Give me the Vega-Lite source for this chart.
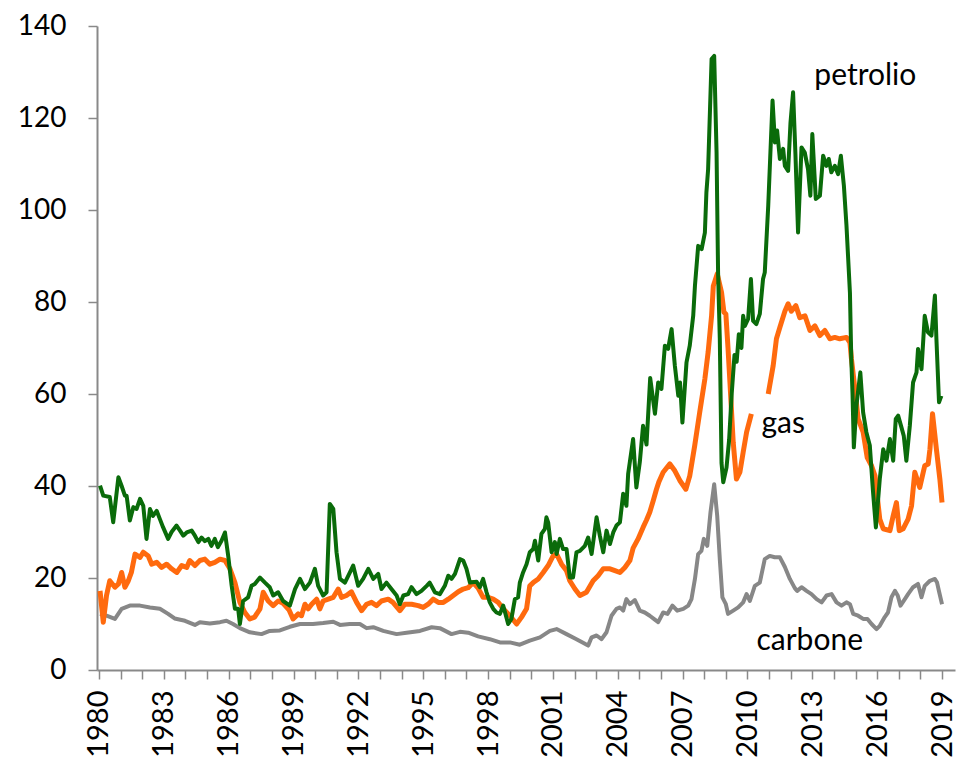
{
  "$schema": "https://vega.github.io/schema/vega-lite/v6.json",
  "width": 858,
  "height": 644,
  "autosize": {"type": "none"},
  "padding": {"left": 97, "top": 26, "right": 3, "bottom": 94},
  "background": "white",
  "config": {"view": {"stroke": null}},
  "datasets": {
    "series": [
      {"series":"petrolio","year":1980.05,"value":40.1},{"series":"petrolio","year":1980.2,"value":37.9},{"series":"petrolio","year":1980.5,"value":37.6},{"series":"petrolio","year":1980.66,"value":32.1},{"series":"petrolio","year":1980.9,"value":41.9},{"series":"petrolio","year":1981.05,"value":40},{"series":"petrolio","year":1981.2,"value":37.9},{"series":"petrolio","year":1981.28,"value":37.9},{"series":"petrolio","year":1981.43,"value":32.5},{"series":"petrolio","year":1981.59,"value":35.4},{"series":"petrolio","year":1981.74,"value":35},{"series":"petrolio","year":1981.9,"value":37.2},{"series":"petrolio","year":1982.05,"value":35.7},{"series":"petrolio","year":1982.2,"value":28.5},{"series":"petrolio","year":1982.36,"value":35},{"series":"petrolio","year":1982.5,"value":33.5},{"series":"petrolio","year":1982.67,"value":34.6},{"series":"petrolio","year":1982.82,"value":32.8},{"series":"petrolio","year":1982.97,"value":31},{"series":"petrolio","year":1983.2,"value":28.5},{"series":"petrolio","year":1983.36,"value":30},{"series":"petrolio","year":1983.59,"value":31.4},{"series":"petrolio","year":1983.75,"value":30.3},{"series":"petrolio","year":1983.9,"value":29.2},{"series":"petrolio","year":1984.06,"value":29.9},{"series":"petrolio","year":1984.29,"value":30.3},{"series":"petrolio","year":1984.44,"value":29.2},{"series":"petrolio","year":1984.6,"value":27.8},{"series":"petrolio","year":1984.75,"value":28.8},{"series":"petrolio","year":1984.9,"value":28},{"series":"petrolio","year":1985.06,"value":28.5},{"series":"petrolio","year":1985.2,"value":27},{"series":"petrolio","year":1985.36,"value":28.5},{"series":"petrolio","year":1985.5,"value":26.7},{"series":"petrolio","year":1985.67,"value":28.1},{"series":"petrolio","year":1985.83,"value":29.9},{"series":"petrolio","year":1985.98,"value":24.8},{"series":"petrolio","year":1986.14,"value":18.3},{"series":"petrolio","year":1986.29,"value":13.3},{"series":"petrolio","year":1986.44,"value":13.3},{"series":"petrolio","year":1986.52,"value":10},{"series":"petrolio","year":1986.67,"value":15},{"series":"petrolio","year":1986.9,"value":15.8},{"series":"petrolio","year":1987.06,"value":18.3},{"series":"petrolio","year":1987.21,"value":18.7},{"series":"petrolio","year":1987.45,"value":20.1},{"series":"petrolio","year":1987.68,"value":19},{"series":"petrolio","year":1987.9,"value":18},{"series":"petrolio","year":1988.06,"value":16.2},{"series":"petrolio","year":1988.29,"value":16.9},{"series":"petrolio","year":1988.52,"value":15},{"series":"petrolio","year":1988.83,"value":14},{"series":"petrolio","year":1989.07,"value":17.6},{"series":"petrolio","year":1989.3,"value":19.8},{"series":"petrolio","year":1989.53,"value":17.6},{"series":"petrolio","year":1989.76,"value":19},{"series":"petrolio","year":1989.99,"value":22},{"series":"petrolio","year":1990.14,"value":18.3},{"series":"petrolio","year":1990.37,"value":16.2},{"series":"petrolio","year":1990.53,"value":16.9},{"series":"petrolio","year":1990.68,"value":36.1},{"series":"petrolio","year":1990.84,"value":35},{"series":"petrolio","year":1990.99,"value":25.6},{"series":"petrolio","year":1991.15,"value":19.8},{"series":"petrolio","year":1991.38,"value":19},{"series":"petrolio","year":1991.61,"value":21.2},{"series":"petrolio","year":1991.76,"value":22.7},{"series":"petrolio","year":1991.99,"value":18.3},{"series":"petrolio","year":1992.22,"value":19.8},{"series":"petrolio","year":1992.46,"value":22},{"series":"petrolio","year":1992.69,"value":19.8},{"series":"petrolio","year":1992.92,"value":20.9},{"series":"petrolio","year":1993.07,"value":17.6},{"series":"petrolio","year":1993.3,"value":19},{"series":"petrolio","year":1993.53,"value":17.6},{"series":"petrolio","year":1993.77,"value":16.2},{"series":"petrolio","year":1993.92,"value":14.3},{"series":"petrolio","year":1994.08,"value":16.2},{"series":"petrolio","year":1994.3,"value":16.5},{"series":"petrolio","year":1994.46,"value":18},{"series":"petrolio","year":1994.69,"value":16.5},{"series":"petrolio","year":1994.92,"value":17.2},{"series":"petrolio","year":1995.16,"value":18.3},{"series":"petrolio","year":1995.3,"value":19},{"series":"petrolio","year":1995.54,"value":16.9},{"series":"petrolio","year":1995.77,"value":16.5},{"series":"petrolio","year":1996.0,"value":18.3},{"series":"petrolio","year":1996.16,"value":20.5},{"series":"petrolio","year":1996.31,"value":19.8},{"series":"petrolio","year":1996.47,"value":20.9},{"series":"petrolio","year":1996.7,"value":24.1},{"series":"petrolio","year":1996.85,"value":23.8},{"series":"petrolio","year":1997.0,"value":22},{"series":"petrolio","year":1997.16,"value":19},{"series":"petrolio","year":1997.47,"value":19.2},{"series":"petrolio","year":1997.62,"value":18},{"series":"petrolio","year":1997.77,"value":19.8},{"series":"petrolio","year":1997.93,"value":16.9},{"series":"petrolio","year":1998.08,"value":14.7},{"series":"petrolio","year":1998.24,"value":13.3},{"series":"petrolio","year":1998.39,"value":12.5},{"series":"petrolio","year":1998.55,"value":12.2},{"series":"petrolio","year":1998.7,"value":14},{"series":"petrolio","year":1998.93,"value":10},{"series":"petrolio","year":1999.08,"value":11.1},{"series":"petrolio","year":1999.24,"value":15.4},{"series":"petrolio","year":1999.39,"value":15.8},{"series":"petrolio","year":1999.47,"value":19},{"series":"petrolio","year":1999.62,"value":21.2},{"series":"petrolio","year":1999.78,"value":23},{"series":"petrolio","year":1999.93,"value":25.6},{"series":"petrolio","year":2000.09,"value":26.3},{"series":"petrolio","year":2000.17,"value":28.1},{"series":"petrolio","year":2000.32,"value":23.8},{"series":"petrolio","year":2000.47,"value":29.6},{"series":"petrolio","year":2000.63,"value":30.7},{"series":"petrolio","year":2000.7,"value":33.2},{"series":"petrolio","year":2000.78,"value":32.1},{"series":"petrolio","year":2000.94,"value":25.6},{"series":"petrolio","year":2001.09,"value":27.8},{"series":"petrolio","year":2001.17,"value":25.2},{"series":"petrolio","year":2001.32,"value":28.5},{"series":"petrolio","year":2001.47,"value":26.3},{"series":"petrolio","year":2001.63,"value":26.3},{"series":"petrolio","year":2001.78,"value":20.1},{"series":"petrolio","year":2001.93,"value":20.1},{"series":"petrolio","year":2002.09,"value":25.6},{"series":"petrolio","year":2002.25,"value":25.9},{"series":"petrolio","year":2002.48,"value":27},{"series":"petrolio","year":2002.63,"value":28.8},{"series":"petrolio","year":2002.79,"value":25.2},{"series":"petrolio","year":2003.02,"value":33.2},{"series":"petrolio","year":2003.17,"value":29.2},{"series":"petrolio","year":2003.33,"value":25.6},{"series":"petrolio","year":2003.48,"value":30.3},{"series":"petrolio","year":2003.64,"value":27.4},{"series":"petrolio","year":2003.79,"value":29.9},{"series":"petrolio","year":2003.94,"value":31.4},{"series":"petrolio","year":2004.1,"value":32.1},{"series":"petrolio","year":2004.25,"value":38.3},{"series":"petrolio","year":2004.4,"value":35.7},{"series":"petrolio","year":2004.48,"value":42.6},{"series":"petrolio","year":2004.71,"value":50.2},{"series":"petrolio","year":2004.86,"value":39.7},{"series":"petrolio","year":2005.02,"value":45.2},{"series":"petrolio","year":2005.17,"value":53.1},{"series":"petrolio","year":2005.33,"value":49},{"series":"petrolio","year":2005.5,"value":63.5},{"series":"petrolio","year":2005.72,"value":55.7},{"series":"petrolio","year":2005.87,"value":62.5},{"series":"petrolio","year":2006.02,"value":61.1},{"series":"petrolio","year":2006.18,"value":70.5},{"series":"petrolio","year":2006.33,"value":69.8},{"series":"petrolio","year":2006.49,"value":74.1},{"series":"petrolio","year":2006.64,"value":66.2},{"series":"petrolio","year":2006.8,"value":59.6},{"series":"petrolio","year":2006.88,"value":62.5},{"series":"petrolio","year":2006.99,"value":53.8},{"series":"petrolio","year":2007.18,"value":66.9},{"series":"petrolio","year":2007.33,"value":70.5},{"series":"petrolio","year":2007.49,"value":77},{"series":"petrolio","year":2007.57,"value":83.5},{"series":"petrolio","year":2007.72,"value":92.2},{"series":"petrolio","year":2007.88,"value":91.5},{"series":"petrolio","year":2008.03,"value":95.1},{"series":"petrolio","year":2008.1,"value":103.8},{"series":"petrolio","year":2008.18,"value":108.9},{"series":"petrolio","year":2008.34,"value":132.8},{"series":"petrolio","year":2008.46,"value":133.5},{"series":"petrolio","year":2008.57,"value":112.5},{"series":"petrolio","year":2008.64,"value":86.4},{"series":"petrolio","year":2008.72,"value":72},{"series":"petrolio","year":2008.8,"value":45},{"series":"petrolio","year":2008.88,"value":40.8},{"series":"petrolio","year":2009.03,"value":44},{"series":"petrolio","year":2009.15,"value":50},{"series":"petrolio","year":2009.27,"value":60},{"series":"petrolio","year":2009.4,"value":68.5},{"series":"petrolio","year":2009.5,"value":67},{"series":"petrolio","year":2009.6,"value":73},{"series":"petrolio","year":2009.72,"value":70},{"series":"petrolio","year":2009.8,"value":77},{"series":"petrolio","year":2009.88,"value":74.8},{"series":"petrolio","year":2010.03,"value":76.3},{"series":"petrolio","year":2010.16,"value":85},{"series":"petrolio","year":2010.26,"value":75.9},{"series":"petrolio","year":2010.41,"value":75.2},{"series":"petrolio","year":2010.57,"value":77.4},{"series":"petrolio","year":2010.72,"value":85},{"series":"petrolio","year":2010.8,"value":86.4},{"series":"petrolio","year":2010.96,"value":100.9},{"series":"petrolio","year":2011.16,"value":123.8},{"series":"petrolio","year":2011.27,"value":114.7},{"series":"petrolio","year":2011.37,"value":117.3},{"series":"petrolio","year":2011.5,"value":111.1},{"series":"petrolio","year":2011.65,"value":113.3},{"series":"petrolio","year":2011.73,"value":109.6},{"series":"petrolio","year":2011.88,"value":108.5},{"series":"petrolio","year":2011.99,"value":119},{"series":"petrolio","year":2012.11,"value":125.6},{"series":"petrolio","year":2012.22,"value":112},{"series":"petrolio","year":2012.34,"value":95.1},{"series":"petrolio","year":2012.5,"value":113.6},{"series":"petrolio","year":2012.65,"value":112.5},{"series":"petrolio","year":2012.8,"value":108.9},{"series":"petrolio","year":2012.91,"value":103.1},{"series":"petrolio","year":2013.0,"value":116.5},{"series":"petrolio","year":2013.16,"value":102.4},{"series":"petrolio","year":2013.35,"value":103.1},{"series":"petrolio","year":2013.5,"value":111.8},{"series":"petrolio","year":2013.65,"value":109.6},{"series":"petrolio","year":2013.76,"value":111.1},{"series":"petrolio","year":2013.88,"value":108.2},{"series":"petrolio","year":2014.04,"value":109.6},{"series":"petrolio","year":2014.19,"value":107.8},{"series":"petrolio","year":2014.32,"value":111.8},{"series":"petrolio","year":2014.46,"value":105.3},{"series":"petrolio","year":2014.58,"value":96.6},{"series":"petrolio","year":2014.74,"value":82},{"series":"petrolio","year":2014.8,"value":68},{"series":"petrolio","year":2014.86,"value":60},{"series":"petrolio","year":2014.92,"value":48.4},{"series":"petrolio","year":2015.04,"value":57.5},{"series":"petrolio","year":2015.22,"value":64.7},{"series":"petrolio","year":2015.35,"value":56},{"series":"petrolio","year":2015.5,"value":51.7},{"series":"petrolio","year":2015.66,"value":48.8},{"series":"petrolio","year":2015.81,"value":38.6},{"series":"petrolio","year":2015.94,"value":31},{"series":"petrolio","year":2016.12,"value":41.5},{"series":"petrolio","year":2016.28,"value":48},{"series":"petrolio","year":2016.43,"value":45.5},{"series":"petrolio","year":2016.59,"value":50.2},{"series":"petrolio","year":2016.74,"value":45.5},{"series":"petrolio","year":2016.86,"value":54.6},{"series":"petrolio","year":2016.97,"value":55.3},{"series":"petrolio","year":2017.12,"value":52.8},{"series":"petrolio","year":2017.23,"value":50.9},{"series":"petrolio","year":2017.35,"value":45.5},{"series":"petrolio","year":2017.51,"value":53.1},{"series":"petrolio","year":2017.66,"value":62.5},{"series":"petrolio","year":2017.82,"value":64.7},{"series":"petrolio","year":2017.89,"value":69.8},{"series":"petrolio","year":2018.05,"value":65.4},{"series":"petrolio","year":2018.2,"value":77},{"series":"petrolio","year":2018.35,"value":73.4},{"series":"petrolio","year":2018.51,"value":72.7},{"series":"petrolio","year":2018.67,"value":81.4},{"series":"petrolio","year":2018.74,"value":72},{"series":"petrolio","year":2018.86,"value":58.2},{"series":"petrolio","year":2018.97,"value":59.6},

      {"series":"gas","seg":1,"year":1980.05,"value":17.2},{"series":"gas","seg":1,"year":1980.2,"value":10.4},{"series":"gas","seg":1,"year":1980.35,"value":16.2},{"series":"gas","seg":1,"year":1980.5,"value":19.4},{"series":"gas","seg":1,"year":1980.74,"value":18},{"series":"gas","seg":1,"year":1980.9,"value":18.7},{"series":"gas","seg":1,"year":1981.05,"value":21.2},{"series":"gas","seg":1,"year":1981.2,"value":18},{"series":"gas","seg":1,"year":1981.36,"value":19.4},{"series":"gas","seg":1,"year":1981.5,"value":21.2},{"series":"gas","seg":1,"year":1981.67,"value":25.2},{"series":"gas","seg":1,"year":1981.9,"value":24.5},{"series":"gas","seg":1,"year":1982.05,"value":25.6},{"series":"gas","seg":1,"year":1982.28,"value":24.8},{"series":"gas","seg":1,"year":1982.44,"value":23},{"series":"gas","seg":1,"year":1982.67,"value":23.4},{"series":"gas","seg":1,"year":1982.9,"value":22.3},{"series":"gas","seg":1,"year":1983.13,"value":23},{"series":"gas","seg":1,"year":1983.36,"value":22},{"series":"gas","seg":1,"year":1983.6,"value":21.2},{"series":"gas","seg":1,"year":1983.83,"value":22.7},{"series":"gas","seg":1,"year":1984.06,"value":22.3},{"series":"gas","seg":1,"year":1984.2,"value":23.8},{"series":"gas","seg":1,"year":1984.44,"value":22.7},{"series":"gas","seg":1,"year":1984.67,"value":23.8},{"series":"gas","seg":1,"year":1984.9,"value":24.1},{"series":"gas","seg":1,"year":1985.13,"value":23},{"series":"gas","seg":1,"year":1985.36,"value":23.4},{"series":"gas","seg":1,"year":1985.6,"value":24.1},{"series":"gas","seg":1,"year":1985.83,"value":23.8},{"series":"gas","seg":1,"year":1986.06,"value":22},{"series":"gas","seg":1,"year":1986.29,"value":19},{"series":"gas","seg":1,"year":1986.52,"value":14.7},{"series":"gas","seg":1,"year":1986.75,"value":12.5},{"series":"gas","seg":1,"year":1986.98,"value":11.1},{"series":"gas","seg":1,"year":1987.2,"value":11.5},{"series":"gas","seg":1,"year":1987.45,"value":13.3},{"series":"gas","seg":1,"year":1987.6,"value":16.9},{"series":"gas","seg":1,"year":1987.83,"value":15},{"series":"gas","seg":1,"year":1988.06,"value":14},{"series":"gas","seg":1,"year":1988.29,"value":15},{"series":"gas","seg":1,"year":1988.52,"value":14.5},{"series":"gas","seg":1,"year":1988.8,"value":13},{"series":"gas","seg":1,"year":1988.98,"value":11.1},{"series":"gas","seg":1,"year":1989.22,"value":12.2},{"series":"gas","seg":1,"year":1989.37,"value":11.8},{"series":"gas","seg":1,"year":1989.53,"value":14.3},{"series":"gas","seg":1,"year":1989.68,"value":13.3},{"series":"gas","seg":1,"year":1989.84,"value":14.3},{"series":"gas","seg":1,"year":1990.07,"value":15.4},{"series":"gas","seg":1,"year":1990.22,"value":13.3},{"series":"gas","seg":1,"year":1990.37,"value":15},{"series":"gas","seg":1,"year":1990.61,"value":15.4},{"series":"gas","seg":1,"year":1990.84,"value":15.8},{"series":"gas","seg":1,"year":1991.07,"value":17.6},{"series":"gas","seg":1,"year":1991.22,"value":15.8},{"series":"gas","seg":1,"year":1991.45,"value":16.2},{"series":"gas","seg":1,"year":1991.68,"value":17},{"series":"gas","seg":1,"year":1991.92,"value":14.7},{"series":"gas","seg":1,"year":1992.15,"value":12.9},{"series":"gas","seg":1,"year":1992.38,"value":14.3},{"series":"gas","seg":1,"year":1992.61,"value":14.7},{"series":"gas","seg":1,"year":1992.84,"value":14},{"series":"gas","seg":1,"year":1993.07,"value":15},{"series":"gas","seg":1,"year":1993.38,"value":15.4},{"series":"gas","seg":1,"year":1993.6,"value":14.7},{"series":"gas","seg":1,"year":1993.92,"value":12.9},{"series":"gas","seg":1,"year":1994.15,"value":14.3},{"series":"gas","seg":1,"year":1994.46,"value":14.3},{"series":"gas","seg":1,"year":1994.77,"value":14},{"series":"gas","seg":1,"year":1995.0,"value":13.6},{"series":"gas","seg":1,"year":1995.23,"value":14.3},{"series":"gas","seg":1,"year":1995.46,"value":15.4},{"series":"gas","seg":1,"year":1995.7,"value":14.7},{"series":"gas","seg":1,"year":1995.93,"value":14.7},{"series":"gas","seg":1,"year":1996.16,"value":15.4},{"series":"gas","seg":1,"year":1996.39,"value":16.2},{"series":"gas","seg":1,"year":1996.62,"value":17},{"series":"gas","seg":1,"year":1996.85,"value":17.6},{"series":"gas","seg":1,"year":1997.08,"value":17.9},{"series":"gas","seg":1,"year":1997.31,"value":19},{"series":"gas","seg":1,"year":1997.54,"value":17.8},{"series":"gas","seg":1,"year":1997.77,"value":15.8},{"series":"gas","seg":1,"year":1998.0,"value":15.8},{"series":"gas","seg":1,"year":1998.24,"value":15.4},{"series":"gas","seg":1,"year":1998.47,"value":14.7},{"series":"gas","seg":1,"year":1998.7,"value":13.3},{"series":"gas","seg":1,"year":1999.01,"value":11.8},{"series":"gas","seg":1,"year":1999.32,"value":10},{"series":"gas","seg":1,"year":1999.55,"value":11.5},{"series":"gas","seg":1,"year":1999.78,"value":13.3},{"series":"gas","seg":1,"year":1999.93,"value":18.3},{"series":"gas","seg":1,"year":2000.09,"value":19},{"series":"gas","seg":1,"year":2000.32,"value":19.8},{"series":"gas","seg":1,"year":2000.55,"value":21.2},{"series":"gas","seg":1,"year":2000.78,"value":22.7},{"series":"gas","seg":1,"year":2001.01,"value":24.8},{"series":"gas","seg":1,"year":2001.17,"value":25.2},{"series":"gas","seg":1,"year":2001.4,"value":23},{"series":"gas","seg":1,"year":2001.63,"value":21.6},{"series":"gas","seg":1,"year":2001.78,"value":19.4},{"series":"gas","seg":1,"year":2002.02,"value":17.6},{"series":"gas","seg":1,"year":2002.25,"value":16.2},{"series":"gas","seg":1,"year":2002.55,"value":16.9},{"series":"gas","seg":1,"year":2002.86,"value":19.4},{"series":"gas","seg":1,"year":2003.09,"value":20.5},{"series":"gas","seg":1,"year":2003.33,"value":22},{"series":"gas","seg":1,"year":2003.64,"value":22},{"series":"gas","seg":1,"year":2003.87,"value":21.6},{"series":"gas","seg":1,"year":2004.1,"value":21.2},{"series":"gas","seg":1,"year":2004.33,"value":22.3},{"series":"gas","seg":1,"year":2004.56,"value":23.8},{"series":"gas","seg":1,"year":2004.71,"value":26.5},{"series":"gas","seg":1,"year":2004.94,"value":28.5},{"series":"gas","seg":1,"year":2005.17,"value":31},{"series":"gas","seg":1,"year":2005.33,"value":32.6},{"series":"gas","seg":1,"year":2005.48,"value":34.3},{"series":"gas","seg":1,"year":2005.64,"value":36.8},{"series":"gas","seg":1,"year":2005.79,"value":39.3},{"series":"gas","seg":1,"year":2005.91,"value":41},{"series":"gas","seg":1,"year":2006.1,"value":43},{"series":"gas","seg":1,"year":2006.41,"value":44.8},{"series":"gas","seg":1,"year":2006.64,"value":43.3},{"series":"gas","seg":1,"year":2006.87,"value":41.2},{"series":"gas","seg":1,"year":2007.15,"value":39.3},{"series":"gas","seg":1,"year":2007.33,"value":42.2},{"series":"gas","seg":1,"year":2007.56,"value":48.8},{"series":"gas","seg":1,"year":2007.79,"value":56},{"series":"gas","seg":1,"year":2008.03,"value":63.3},{"series":"gas","seg":1,"year":2008.18,"value":69.1},{"series":"gas","seg":1,"year":2008.34,"value":77},{"series":"gas","seg":1,"year":2008.42,"value":83.5},{"series":"gas","seg":1,"year":2008.6,"value":86.1},{"series":"gas","seg":1,"year":2008.8,"value":82.1},{"series":"gas","seg":1,"year":2008.91,"value":77.8},{"series":"gas","seg":1,"year":2009.0,"value":77.4},{"series":"gas","seg":1,"year":2009.1,"value":70},{"series":"gas","seg":1,"year":2009.19,"value":62.5},{"series":"gas","seg":1,"year":2009.34,"value":49.5},{"series":"gas","seg":1,"year":2009.49,"value":41.5},{"series":"gas","seg":1,"year":2009.65,"value":43},{"series":"gas","seg":1,"year":2009.8,"value":47.3},{"series":"gas","seg":1,"year":2009.96,"value":51.7},{"series":"gas","seg":1,"year":2010.18,"value":55.7},
      {"series":"gas","seg":2,"year":2010.96,"value":60},{"series":"gas","seg":2,"year":2011.19,"value":66.2},{"series":"gas","seg":2,"year":2011.34,"value":72},{"series":"gas","seg":2,"year":2011.5,"value":74.5},{"series":"gas","seg":2,"year":2011.73,"value":78},{"series":"gas","seg":2,"year":2011.88,"value":79.6},{"series":"gas","seg":2,"year":2012.03,"value":78},{"series":"gas","seg":2,"year":2012.24,"value":79.2},{"series":"gas","seg":2,"year":2012.42,"value":76.6},{"series":"gas","seg":2,"year":2012.66,"value":77},{"series":"gas","seg":2,"year":2012.89,"value":73.8},{"series":"gas","seg":2,"year":2013.12,"value":74.8},{"series":"gas","seg":2,"year":2013.35,"value":72.7},{"series":"gas","seg":2,"year":2013.58,"value":73.8},{"series":"gas","seg":2,"year":2013.81,"value":72},{"series":"gas","seg":2,"year":2014.04,"value":72.3},{"series":"gas","seg":2,"year":2014.27,"value":72},{"series":"gas","seg":2,"year":2014.58,"value":72.3},{"series":"gas","seg":2,"year":2014.74,"value":71.2},{"series":"gas","seg":2,"year":2014.81,"value":67.6},{"series":"gas","seg":2,"year":2014.97,"value":61.1},{"series":"gas","seg":2,"year":2015.12,"value":54.6},{"series":"gas","seg":2,"year":2015.35,"value":51.7},{"series":"gas","seg":2,"year":2015.54,"value":46.2},{"series":"gas","seg":2,"year":2015.74,"value":44.4},{"series":"gas","seg":2,"year":2015.9,"value":42.2},{"series":"gas","seg":2,"year":2016.0,"value":37.9},{"series":"gas","seg":2,"year":2016.12,"value":32.8},{"series":"gas","seg":2,"year":2016.28,"value":30.7},{"series":"gas","seg":2,"year":2016.59,"value":30.3},{"series":"gas","seg":2,"year":2016.74,"value":33.5},{"series":"gas","seg":2,"year":2016.89,"value":36.4},{"series":"gas","seg":2,"year":2017.02,"value":30.3},{"series":"gas","seg":2,"year":2017.2,"value":30.7},{"series":"gas","seg":2,"year":2017.43,"value":32.8},{"series":"gas","seg":2,"year":2017.59,"value":35.7},{"series":"gas","seg":2,"year":2017.74,"value":43},{"series":"gas","seg":2,"year":2017.97,"value":39.7},{"series":"gas","seg":2,"year":2018.2,"value":44.4},{"series":"gas","seg":2,"year":2018.36,"value":44.8},{"series":"gas","seg":2,"year":2018.44,"value":48},{"series":"gas","seg":2,"year":2018.56,"value":55.7},{"series":"gas","seg":2,"year":2018.74,"value":48},{"series":"gas","seg":2,"year":2018.9,"value":41.5},{"series":"gas","seg":2,"year":2019.0,"value":36.4},

      {"series":"carbone","year":1980.05,"value":12.2},{"series":"carbone","year":1980.35,"value":11.8},{"series":"carbone","year":1980.74,"value":11.1},{"series":"carbone","year":1981.05,"value":13.3},{"series":"carbone","year":1981.43,"value":14},{"series":"carbone","year":1981.9,"value":14},{"series":"carbone","year":1982.36,"value":13.6},{"series":"carbone","year":1982.82,"value":13.3},{"series":"carbone","year":1983.2,"value":12.2},{"series":"carbone","year":1983.5,"value":11.2},{"series":"carbone","year":1983.98,"value":10.7},{"series":"carbone","year":1984.44,"value":9.8},{"series":"carbone","year":1984.67,"value":10.4},{"series":"carbone","year":1985.13,"value":10.1},{"series":"carbone","year":1985.6,"value":10.4},{"series":"carbone","year":1985.9,"value":10.7},{"series":"carbone","year":1986.2,"value":10},{"series":"carbone","year":1986.52,"value":9.1},{"series":"carbone","year":1986.98,"value":8.2},{"series":"carbone","year":1987.52,"value":7.8},{"series":"carbone","year":1987.9,"value":8.5},{"series":"carbone","year":1988.37,"value":8.6},{"series":"carbone","year":1988.83,"value":9.4},{"series":"carbone","year":1989.3,"value":10},{"series":"carbone","year":1989.9,"value":10},{"series":"carbone","year":1990.37,"value":10.2},{"series":"carbone","year":1990.84,"value":10.5},{"series":"carbone","year":1991.15,"value":9.8},{"series":"carbone","year":1991.6,"value":10},{"series":"carbone","year":1992.07,"value":10},{"series":"carbone","year":1992.38,"value":9.1},{"series":"carbone","year":1992.69,"value":9.3},{"series":"carbone","year":1993.15,"value":8.5},{"series":"carbone","year":1993.77,"value":7.8},{"series":"carbone","year":1994.23,"value":8.1},{"series":"carbone","year":1994.85,"value":8.5},{"series":"carbone","year":1995.39,"value":9.3},{"series":"carbone","year":1995.77,"value":9.1},{"series":"carbone","year":1996.31,"value":7.8},{"series":"carbone","year":1996.7,"value":8.3},{"series":"carbone","year":1997.08,"value":8.1},{"series":"carbone","year":1997.54,"value":7.3},{"series":"carbone","year":1998.08,"value":6.7},{"series":"carbone","year":1998.55,"value":6},{"series":"carbone","year":1999.01,"value":6},{"series":"carbone","year":1999.47,"value":5.5},{"series":"carbone","year":1999.93,"value":6.4},{"series":"carbone","year":2000.4,"value":7.1},{"series":"carbone","year":2000.86,"value":8.5},{"series":"carbone","year":2001.17,"value":8.9},{"series":"carbone","year":2001.63,"value":7.8},{"series":"carbone","year":2002.09,"value":6.7},{"series":"carbone","year":2002.48,"value":5.7},{"series":"carbone","year":2002.63,"value":5.3},{"series":"carbone","year":2002.79,"value":7.1},{"series":"carbone","year":2003.02,"value":7.5},{"series":"carbone","year":2003.25,"value":6.7},{"series":"carbone","year":2003.48,"value":8.2},{"series":"carbone","year":2003.71,"value":11.8},{"series":"carbone","year":2003.94,"value":13.3},{"series":"carbone","year":2004.1,"value":13.6},{"series":"carbone","year":2004.25,"value":12.9},{"series":"carbone","year":2004.4,"value":15.4},{"series":"carbone","year":2004.56,"value":14.3},{"series":"carbone","year":2004.79,"value":15.2},{"series":"carbone","year":2005.02,"value":12.9},{"series":"carbone","year":2005.25,"value":12.5},{"series":"carbone","year":2005.48,"value":11.8},{"series":"carbone","year":2005.7,"value":11},{"series":"carbone","year":2005.87,"value":10.4},{"series":"carbone","year":2006.1,"value":12.5},{"series":"carbone","year":2006.3,"value":12.2},{"series":"carbone","year":2006.53,"value":14},{"series":"carbone","year":2006.75,"value":12.9},{"series":"carbone","year":2007.03,"value":13.3},{"series":"carbone","year":2007.26,"value":14},{"series":"carbone","year":2007.41,"value":15.4},{"series":"carbone","year":2007.57,"value":19.8},{"series":"carbone","year":2007.72,"value":25.2},{"series":"carbone","year":2007.87,"value":25.9},{"series":"carbone","year":2007.98,"value":28.5},{"series":"carbone","year":2008.14,"value":27},{"series":"carbone","year":2008.29,"value":34.3},{"series":"carbone","year":2008.46,"value":40.4},{"series":"carbone","year":2008.6,"value":33.5},{"series":"carbone","year":2008.72,"value":24.1},{"series":"carbone","year":2008.84,"value":15.8},{"series":"carbone","year":2009.0,"value":14.3},{"series":"carbone","year":2009.1,"value":12.2},{"series":"carbone","year":2009.34,"value":12.9},{"series":"carbone","year":2009.57,"value":13.6},{"series":"carbone","year":2009.8,"value":14.7},{"series":"carbone","year":2009.96,"value":16.5},{"series":"carbone","year":2010.11,"value":15},{"series":"carbone","year":2010.34,"value":18.3},{"series":"carbone","year":2010.57,"value":19},{"series":"carbone","year":2010.8,"value":24.1},{"series":"carbone","year":2011.03,"value":24.8},{"series":"carbone","year":2011.26,"value":24.5},{"series":"carbone","year":2011.5,"value":24.5},{"series":"carbone","year":2011.73,"value":22.4},{"series":"carbone","year":2011.96,"value":19.8},{"series":"carbone","year":2012.19,"value":17.8},{"series":"carbone","year":2012.3,"value":17.2},{"series":"carbone","year":2012.5,"value":18},{"series":"carbone","year":2012.73,"value":17.2},{"series":"carbone","year":2012.96,"value":16.5},{"series":"carbone","year":2013.2,"value":15.4},{"series":"carbone","year":2013.43,"value":14.7},{"series":"carbone","year":2013.66,"value":16.2},{"series":"carbone","year":2013.89,"value":16.5},{"series":"carbone","year":2014.12,"value":14.7},{"series":"carbone","year":2014.35,"value":14},{"series":"carbone","year":2014.58,"value":14.7},{"series":"carbone","year":2014.74,"value":14.3},{"series":"carbone","year":2014.89,"value":12.2},{"series":"carbone","year":2015.12,"value":11.8},{"series":"carbone","year":2015.35,"value":11.1},{"series":"carbone","year":2015.55,"value":11.1},{"series":"carbone","year":2015.74,"value":10},{"series":"carbone","year":2015.97,"value":8.9},{"series":"carbone","year":2016.12,"value":9.6},{"series":"carbone","year":2016.35,"value":11.5},{"series":"carbone","year":2016.5,"value":12.5},{"series":"carbone","year":2016.66,"value":15.8},{"series":"carbone","year":2016.82,"value":17.2},{"series":"carbone","year":2016.95,"value":16.2},{"series":"carbone","year":2017.08,"value":14},{"series":"carbone","year":2017.28,"value":15.4},{"series":"carbone","year":2017.43,"value":16.5},{"series":"carbone","year":2017.66,"value":18},{"series":"carbone","year":2017.89,"value":18.7},{"series":"carbone","year":2018.05,"value":15.8},{"series":"carbone","year":2018.2,"value":18.3},{"series":"carbone","year":2018.44,"value":19.4},{"series":"carbone","year":2018.67,"value":19.8},{"series":"carbone","year":2018.77,"value":19},{"series":"carbone","year":2018.87,"value":16.9},{"series":"carbone","year":2019.0,"value":14.3}
    ],
    "labels": [
      {"label": "petrolio", "year": 2015.45, "value": 127.2},
      {"label": "gas", "year": 2011.65, "value": 51.5},
      {"label": "carbone", "year": 2012.88, "value": 4.35}
    ]
  },
  "encoding": {
    "x": {
      "field": "year", "type": "quantitative",
      "scale": {"domain": [1979.91, 2019.6], "nice": false, "zero": false},
      "axis": {
        "title": null, "grid": false,
        "values": [1980,1981,1982,1983,1984,1985,1986,1987,1988,1989,1990,1991,1992,1993,1994,1995,1996,1997,1998,1999,2000,2001,2002,2003,2004,2005,2006,2007,2008,2009,2010,2011,2012,2013,2014,2015,2016,2017,2018,2019],
        "format": "d",
        "labelExpr": "datum.value % 3 == 0 ? datum.label : ''",
        "labelAngle": -90, "labelFont": "Lato", "labelFontSize": 29, "labelColor": "#000000",
        "labelPadding": 11, "labelOverlap": false, "labelFlush": false, "labelBound": false,
        "tickSize": 9, "tickColor": "#898989", "tickWidth": 1.5,
        "domainColor": "#898989", "domainWidth": 2
      }
    },
    "y": {
      "field": "value", "type": "quantitative",
      "scale": {"domain": [0, 140], "nice": false},
      "axis": {
        "title": null, "grid": false,
        "values": [0,20,40,60,80,100,120,140],
        "labelFont": "Lato", "labelFontSize": 28, "labelColor": "#000000",
        "labelPadding": 22,
        "tickSize": 9, "tickColor": "#898989", "tickWidth": 1.5,
        "domainColor": "#898989", "domainWidth": 2
      }
    }
  },
  "layer": [
    {
      "data": {"name": "series"},
      "transform": [{"filter": "datum.series == 'carbone'"}],
      "mark": {"type": "line", "color": "#878787", "strokeWidth": 4, "strokeJoin": "round"}
    },
    {
      "data": {"name": "series"},
      "transform": [{"filter": "datum.series == 'gas'"}],
      "mark": {"type": "line", "color": "#ff6a0e", "strokeWidth": 5, "strokeJoin": "round"},
      "encoding": {"detail": {"field": "seg", "type": "nominal"}}
    },
    {
      "data": {"name": "series"},
      "transform": [{"filter": "datum.series == 'petrolio'"}],
      "mark": {"type": "line", "color": "#0a6b0a", "strokeWidth": 4, "strokeJoin": "round"}
    },
    {
      "data": {"name": "labels"},
      "mark": {"type": "text", "font": "Lato", "fontSize": 30, "color": "#000000", "align": "center", "baseline": "alphabetic"},
      "encoding": {"text": {"field": "label", "type": "nominal"}}
    }
  ]
}
